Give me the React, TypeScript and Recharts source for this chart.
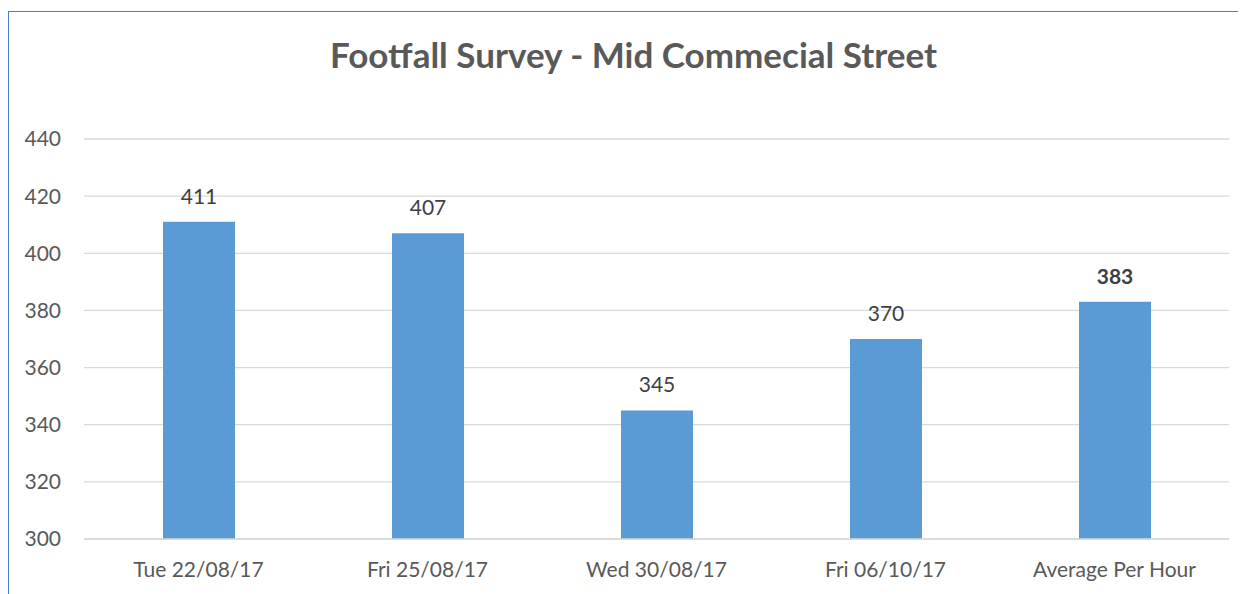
import React from 'react';
import { BarChart, Bar, XAxis, YAxis, CartesianGrid, LabelList } from 'recharts';

const categories = ['Tue 22/08/17', 'Fri 25/08/17', 'Wed 30/08/17', 'Fri 06/10/17', 'Average Per Hour'];
const footfall = [411, 407, 345, 370, 383];
const yTicks = [300, 320, 340, 360, 380, 400, 420, 440];
const boldLabel = 'Average Per Hour';

const data = categories.map((name, i) => ({ name, value: footfall[i] }));

const FONT = 'Lato, "Noto Sans", sans-serif';

function ValueLabel(props: any) {
  const { x, y, width, value, index } = props;
  const bold = categories[index] === boldLabel;
  return (
    <text
      x={x + width / 2}
      y={y - 18}
      textAnchor="middle"
      fill="#404040"
      fontFamily={FONT}
      fontSize={21}
      fontWeight={bold ? 700 : 400}
    >
      {value}
    </text>
  );
}

export default function App() {
  return (
    <div
      style={{
        position: 'relative',
        marginTop: 3,
        width: 1237,
        height: 582,
        borderTop: '1px solid #4f7fc0',
        borderLeft: '1px solid #4f7fc0',
        background: '#fff',
        overflow: 'hidden',
      }}
    >
      <div
        style={{
          position: 'absolute',
          left: 0,
          top: 25,
          width: 1249,
          textAlign: 'center',
          fontFamily: FONT,
          fontWeight: 700,
          fontSize: 35,
          lineHeight: 1,
          color: '#595959',
        }}
      >
        Footfall Survey - Mid Commecial Street
      </div>
      <BarChart width={1237} height={582} data={data} margin={{ top: 127, right: 17, bottom: 25, left: 0 }}>
        <CartesianGrid vertical={false} stroke="#d9d9d9" strokeWidth={1.3} />
        <XAxis
          dataKey="name"
          axisLine={{ stroke: '#d9d9d9', strokeWidth: 1.3 }}
          tickLine={false}
          height={30}
          tickMargin={17}
          interval={0}
          tick={{ fill: '#595959', fontSize: 21, fontFamily: FONT }}
        />
        <YAxis
          domain={[300, 440]}
          ticks={yTicks}
          axisLine={false}
          tickLine={false}
          width={75}
          tickMargin={17}
          allowDataOverflow
          tick={{ fill: '#595959', fontSize: 21, fontFamily: FONT }}
        />
        <Bar dataKey="value" fill="#5b9bd5" barSize={72} isAnimationActive={false}>
          <LabelList dataKey="value" content={ValueLabel} />
        </Bar>
      </BarChart>
    </div>
  );
}
